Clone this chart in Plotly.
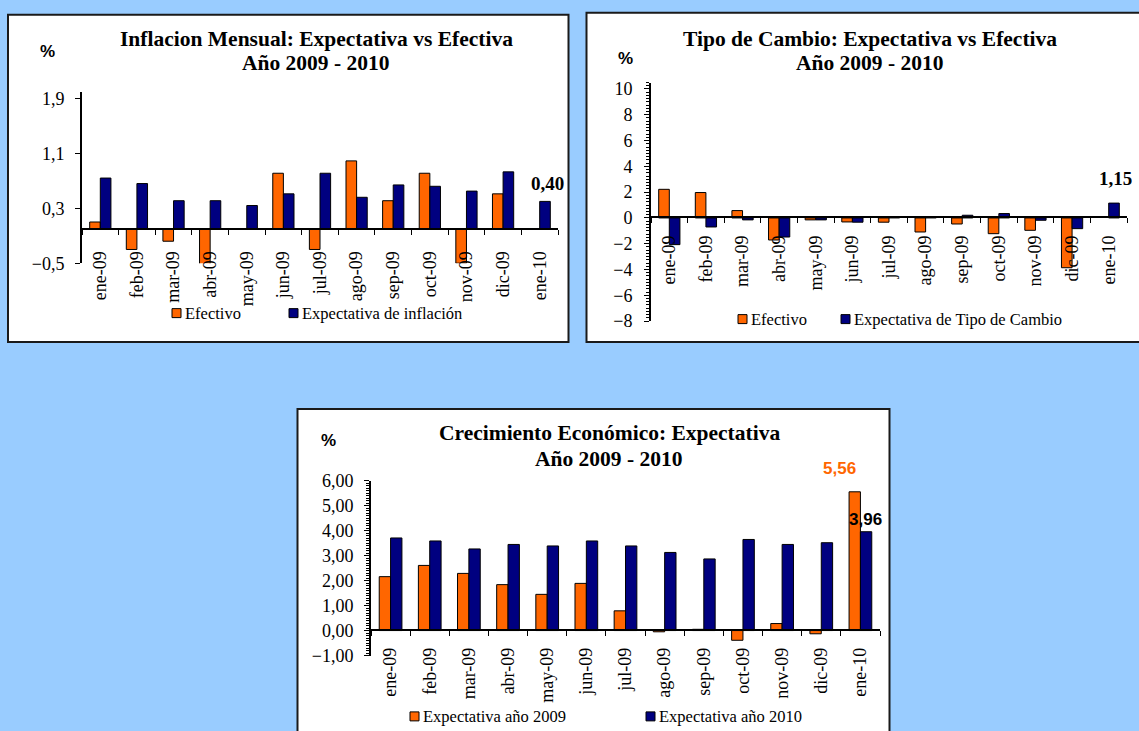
import plotly.graph_objects as go

# ---------------- data ----------------
months = ["ene-09", "feb-09", "mar-09", "abr-09", "may-09", "jun-09", "jul-09",
          "ago-09", "sep-09", "oct-09", "nov-09", "dic-09", "ene-10"]

infl_efectivo = [0.10, -0.30, -0.18, -0.60, 0.0, 0.81, -0.30, 0.99, 0.41, 0.81, -0.50, 0.51, None]
infl_expectativa = [0.74, 0.66, 0.41, 0.41, 0.34, 0.51, 0.81, 0.46, 0.64, 0.62, 0.55, 0.83, 0.40]

tc_efectivo = [2.22, 1.97, 0.57, -1.71, -0.15, -0.31, -0.33, -1.09, -0.47, -1.22, -0.96, -3.86, None]
tc_expectativa = [-2.07, -0.70, -0.15, -1.48, -0.15, -0.33, 0.08, 0.08, 0.21, 0.34, -0.18, -0.83, 1.15]

crec_2009 = [2.16, 2.61, 2.29, 1.84, 1.45, 1.89, 0.79, -0.05, 0.05, -0.39, 0.28, -0.13, 5.56]
crec_2010 = [3.71, 3.59, 3.27, 3.45, 3.39, 3.59, 3.39, 3.13, 2.87, 3.65, 3.45, 3.52, 3.96]

infl_ticks = [-0.5, 0.3, 1.1, 1.9]
tc_ticks = [-8, -6, -4, -2, 0, 2, 4, 6, 8, 10]
crec_ticks = [-1, 0, 1, 2, 3, 4, 5, 6]

# ---------------- style ----------------
W, H = 1139, 731
ORANGE = "#FF6600"
NAVY = "#000080"
SERIF = "Liberation Serif"
SANS = "Liberation Sans"
VS, VOFF = 0.9744, 8.33   # vertical calibration of the rendered page


def px(x):
    return x / W


def py(y):
    return 1 - ((y - VOFF) / VS) / H


fig = go.Figure()

panels = [
    dict(ax="", s1=infl_efectivo, s2=infl_expectativa, n1="Efectivo", n2="Expectativa de inflación"),
    dict(ax="2", s1=tc_efectivo, s2=tc_expectativa, n1="Efectivo", n2="Expectativa de Tipo de Cambio"),
    dict(ax="3", s1=crec_2009, s2=crec_2010, n1="Expectativa año 2009", n2="Expectativa año 2010"),
]

for p in panels:
    for vals, col, nm in ((p["s1"], ORANGE, p["n1"]), (p["s2"], NAVY, p["n2"])):
        fig.add_trace(go.Bar(
            x=months, y=vals, name=nm, xaxis="x" + p["ax"], yaxis="y" + p["ax"],
            marker=dict(color=col, line=dict(color="black", width=1)),
            hoverinfo="x+y",
        ))

# pixel layout of each plot area
geo = {
    "": dict(x0=82, x1=558, yt=90, yb=262, rng=[-0.5, 2.0], zero=227.7, ys=7, xs=14),
    "2": dict(x0=651, x1=1127, yt=81, yb=320, rng=[-8, 10.5], zero=216, ys=8, xs=10),
    "3": dict(x0=371, x1=880, yt=480, yb=655, rng=[-1, 6], zero=629, ys=7, xs=10),
}

layout = dict(
    width=W, height=H, margin=dict(l=0, r=0, t=0, b=0),
    paper_bgcolor="#99CCFF", plot_bgcolor="rgba(0,0,0,0)",
    showlegend=False, barmode="group", bargap=0.42, bargroupgap=0,
    separators=",.",
    font=dict(family=SERIF, color="black"),
)

for key, g in geo.items():
    axis_font = dict(family=SERIF, size=18, color="black")
    layout["xaxis" + key] = dict(
        type="category", domain=[px(g["x0"]), px(g["x1"])],
        anchor="free", position=py(g["zero"]),
        showline=True, linecolor="black", linewidth=2,
        ticks="outside", tickson="boundaries", ticklen=5, tickcolor="black", tickwidth=1,
        tickangle=-90, tickfont=axis_font, ticklabelstandoff=g["xs"],
        showgrid=False, zeroline=False, fixedrange=True,
    )
    ya = dict(
        domain=[py(g["yb"]), py(g["yt"])], anchor="x" + key, range=g["rng"],
        showline=True, linecolor="black", linewidth=2,
        ticks="outside", ticklen=5, tickcolor="black", tickwidth=1,
        tickfont=axis_font, ticklabelstandoff=g["ys"],
        showgrid=False, zeroline=False, fixedrange=True,
    )
    if key == "":
        ya.update(tickvals=infl_ticks, tickformat=".1f")
    elif key == "2":
        ya.update(tickvals=tc_ticks, tickformat="d",
                  minor=dict(dtick=0.25, tick0=0, ticks="outside", ticklen=3, tickcolor="black"))
    else:
        ya.update(tickvals=crec_ticks, tickformat=".2f",
                  minor=dict(dtick=0.1, tick0=0, ticks="outside", ticklen=3, tickcolor="black"))
    layout["yaxis" + key] = ya

fig.update_layout(**layout)

# panel backgrounds
for (x0, y0, x1, y1) in [(8, 13, 568.5, 341), (586.5, 11, 1150, 341), (297.5, 408, 889.5, 745)]:
    fig.add_shape(type="rect", xref="paper", yref="paper",
                  x0=px(x0), x1=px(x1), y0=py(y0), y1=py(y1),
                  fillcolor="white", line=dict(color="#1a1a1a", width=2), layer="below")

title_font = dict(family=SERIF, size=21.5, color="black")
titles = [
    ("<b>Inflacion Mensual: Expectativa vs Efectiva</b>", 316, 37),
    ("<b>Año 2009 - 2010</b>", 316, 61),
    ("<b>Tipo de Cambio: Expectativa vs Efectiva</b>", 870, 37),
    ("<b>Año 2009 - 2010</b>", 870, 61),
    ("<b>Crecimiento Económico: Expectativa</b>", 609, 432),
    ("<b>Año 2009 - 2010</b>", 609, 458),
]
for txt, x, y in titles:
    fig.add_annotation(text=txt, x=px(x), y=py(y), xref="paper", yref="paper",
                       showarrow=False, font=title_font, xanchor="center", yanchor="middle")

for x, y in [(47, 50), (625, 57), (328, 440)]:
    fig.add_annotation(text="<b>%</b>", x=px(x), y=py(y), xref="paper", yref="paper",
                       showarrow=False, font=dict(family=SANS, size=17, color="black"),
                       xanchor="center", yanchor="middle")

# value call-outs
callouts = [
    ("<b>0,40</b>", 547, 182, SERIF, 19, "black"),
    ("<b>1,15</b>", 1115, 177, SERIF, 19, "black"),
    ("<b>5,56</b>", 839, 468, SANS, 17, ORANGE),
    ("<b>3,96</b>", 865, 519, SANS, 17, "black"),
]
for txt, x, y, fam, sz, col in callouts:
    fig.add_annotation(text=txt, x=px(x), y=py(y), xref="paper", yref="paper",
                       showarrow=False, font=dict(family=fam, size=sz, color=col),
                       xanchor="center", yanchor="middle")

# legends (square + text)
legend_font = dict(family=SERIF, size=16.5, color="black")
legends = [
    (172, 312, ORANGE, "Efectivo"), (289, 312, NAVY, "Expectativa de inflación"),
    (738, 318, ORANGE, "Efectivo"), (841, 318, NAVY, "Expectativa de Tipo de Cambio"),
    (410, 716, ORANGE, "Expectativa año 2009"), (646, 716, NAVY, "Expectativa año 2010"),
]
for x, y, col, txt in legends:
    fig.add_shape(type="rect", xref="paper", yref="paper",
                  x0=px(x), x1=px(x + 9), y0=py(y + 4.5), y1=py(y - 4.5),
                  fillcolor=col, line=dict(color="black", width=1))
    fig.add_annotation(text=txt, x=px(x + 11), y=py(y), xref="paper", yref="paper",
                       showarrow=False, font=legend_font, xanchor="left", yanchor="middle")

fig.write_html(
    "out.html",
    config={"displayModeBar": False},
    post_script="document.body.style.margin='0';document.body.style.overflow='hidden';",
)
